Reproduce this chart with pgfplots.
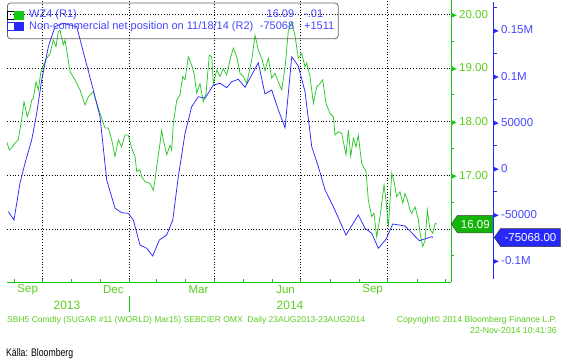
\documentclass[border=0pt]{standalone}
\usepackage{pgfplots}
\pgfplotsset{compat=1.18}
\usepackage{fontspec}
\setmainfont{Liberation Sans}
\usetikzlibrary{shapes.symbols}
\definecolor{bbgreen}{RGB}{40,200,40}
\definecolor{bbgreenax}{RGB}{20,200,20}
\definecolor{bbgreentxt}{RGB}{90,205,30}
\definecolor{bbgreentag}{RGB}{20,180,10}
\definecolor{bbblue}{RGB}{40,40,250}
\definecolor{bbbluetxt}{RGB}{70,70,255}
\newcommand{\trig}{\tikz[baseline=-0.5ex]\fill[bbgreenax] (0,-2.6pt)--(0,2.6pt)--(5.5pt,0)--cycle;\hspace{2.5pt}}
\newcommand{\trib}{\tikz[baseline=-0.5ex]\fill[bbblue] (0,-2.6pt)--(0,2.6pt)--(5.5pt,0)--cycle;\hspace{2.5pt}}
\begin{document}
\begin{tikzpicture}
\useasboundingbox (0,0) rectangle (564pt,363pt);
% green series axis
\begin{axis}[
  at={(7pt,81pt)}, anchor=south west,
  scale only axis, width=444pt, height=282pt,
  xmin=-7.4, xmax=461.9, ymin=15.01, ymax=20.267,
  axis x line=bottom, axis y line=right,
  axis line style={bbgreenax, line width=0.9pt, -},
  xtick={30,122,212,303,395}, xticklabels={},
  minor xtick={0,61,91,151,181,242,273,334,365,426,456},
  ytick={16,17,18,19,20}, minor ytick={15.5,16.5,17.5,18.5,19.5},
  yticklabels={{}, \trig 17.00, \trig 18.00, \trig 19.00, \trig 20.00},
  xmajorgrids, ymajorgrids,
  major grid style={black, line width=0.6pt, dash pattern=on 0.8pt off 2pt},
  tick align=inside, major tick length=3pt, minor tick length=3pt,
  tick style={bbgreenax, line width=0.8pt},
  every major y tick/.append style={draw=none},
  every minor y tick/.append style={xshift=3pt},
  yticklabel style={anchor=west, inner sep=0pt, font=\fontsize{11.5}{13}\selectfont, text=bbgreentxt},
  clip mode=individual,
]
\addplot[bbgreen, line width=0.75pt] coordinates {
(-7.7,17.63) (-5,17.47) (-2,17.52) (1,17.60) (4.5,17.66) (8,18.03) (10.6,18.37) (14,18.09) (17,18.25) (18.7,18.40) (20.4,18.43) (23.3,18.74) (25.7,18.59) (28.2,18.90) (31,19.05) (34.6,19.18) (38.1,19.27) (41.5,19.52) (44.4,19.40) (46.8,19.68) (48.6,19.70) (52.1,19.43) (53.9,19.52) (55.7,19.33) (59.2,18.93) (64.5,18.78) (69.8,18.59) (75.1,18.31) (78.5,18.46) (83.8,18.56) (87.4,18.34) (92.7,18.06) (96.2,17.88) (99.7,17.88) (103.3,17.66) (106.8,17.35) (110.3,17.66) (113.8,17.53) (117.3,17.75) (120.8,17.75) (124.4,17.50) (127.9,17.35) (129.7,17.07) (133.2,17.10) (135,16.97) (138.5,16.88) (143.8,16.85) (147.3,16.72) (149,16.91) (150.8,17.16) (153.6,17.50) (156.1,17.84) (157.8,17.66) (161.4,17.38) (164.9,17.56) (166.7,17.47) (168.4,17.97) (172,18.40) (175.5,18.50) (178.3,18.84) (180.8,18.78) (184.2,19.21) (187.8,19.05) (190.3,18.90) (193.1,18.53) (196.6,18.71) (200.1,18.37) (203,18.53) (206.4,19.24) (209,19.21) (210.7,18.71) (214.3,18.96) (217.8,18.84) (221.2,18.99) (224.8,18.87) (228.3,19.15) (231.8,19.37) (235.4,19.21) (238.9,18.90) (242.4,18.84) (246,18.71) (251.3,19.15) (254.8,19.61) (258.2,19.33) (261.8,19.18) (265.3,18.95) (268.8,19.18) (272.4,18.81) (275.9,18.90) (279.4,18.74) (283,18.59) (286.5,19.02) (290,19.70) (293.6,19.85) (297,19.60) (300.5,19.18) (304.1,19.27) (307.6,19.02) (309.4,19.09) (312.9,18.84) (316.4,18.34) (320,18.65) (323.5,18.71) (326.3,18.78) (329.8,18.34) (334,18.15) (337.5,18.09) (339.3,17.75) (342.8,17.81) (346.4,17.78) (350.9,17.38) (353.4,17.84) (355.9,17.35) (358.7,17.69) (361.5,17.53) (363.9,17.75) (367.5,17.22) (372.1,17.07) (374.5,16.54) (378.1,16.23) (380.5,16.29) (383.4,15.85) (386.9,16.23) (391.1,16.82) (393.2,16.54) (395.7,16.04) (399.3,17.04) (401.7,16.88) (404.5,16.60) (408,16.69) (410.9,16.48) (413.3,16.66) (415.8,16.54) (418.6,16.35) (420.4,16.29) (423.9,16.41) (427.4,16.17) (429.2,15.92) (432,15.67) (434.5,15.79) (436.9,16.35) (439.8,15.98) (442.6,15.92) (445.1,16.10) (447.1,16.09)
};
\node[font=\fontsize{11.5}{13}\selectfont, text=bbgreentxt, yshift=-8pt] at (axis cs:14.5,15.01) {Sep};
\node[font=\fontsize{11.5}{13}\selectfont, text=bbgreentxt, yshift=-8pt] at (axis cs:105,15.01) {Dec};
\node[font=\fontsize{11.5}{13}\selectfont, text=bbgreentxt, yshift=-8pt] at (axis cs:195,15.01) {Mar};
\node[font=\fontsize{11.5}{13}\selectfont, text=bbgreentxt, yshift=-8pt] at (axis cs:287,15.01) {Jun};
\node[font=\fontsize{11.5}{13}\selectfont, text=bbgreentxt, yshift=-8pt] at (axis cs:379,15.01) {Sep};
\node[signal, signal to=west, signal pointer angle=110, fill=bbgreentag, draw=black!70, line width=0.5pt,
  text=white, font=\fontsize{11.5}{13}\selectfont, minimum height=17.5pt, minimum width=42pt, inner sep=1pt, anchor=west]
  at (axis cs:461.9,16.09) {16.09};
\end{axis}
% blue series axis
\begin{axis}[
  at={(7pt,81pt)}, anchor=south west,
  scale only axis, width=444pt, height=282pt,
  xmin=-7.4, xmax=461.9, ymin=-123320, ymax=182540,
  hide axis,
  legend style={at={(axis description cs:0,1)}, anchor=north west, yshift=-2.7pt,
    draw=black!60, line width=0.8pt, rounded corners=3pt, fill=none,
    inner xsep=0pt, inner ysep=6.5pt, column sep=5pt, row sep=0.6pt,
    font=\fontsize{11}{12}\selectfont,
    nodes={inner sep=0pt, text height=8pt, text depth=3pt}},
  legend cell align=left,
]
\addlegendimage{legend image code/.code={\path[sharp corners] (0pt,-4pt) rectangle (16pt,4pt); \fill[bbgreenax, sharp corners] (7pt,-4pt) rectangle (16pt,4pt);}}
\addlegendentry{\textcolor{bbbluetxt}{\makebox[265pt][l]{WZ4 (R1)\hfill 16.09}\hspace{10pt}\makebox[34pt][l]{-.01}}}
\addplot[bbblue, line width=0.75pt, legend image code/.code={\path[sharp corners] (0pt,-4pt) rectangle (16pt,4pt); \fill[bbblue, sharp corners] (7pt,-4pt) rectangle (16pt,4pt);}] coordinates {
(-6,-47070) (0,-56070) (6.3,-16270) (11.6,5420) (18.7,30700) (24,59650) (29.3,95800) (36.3,131900) (43.3,153600) (52.1,157300) (66.3,153600) (83.8,84900) (90.9,56000) (98,-12690) (106.8,-43380) (113.8,-48160) (120.8,-48810) (126.1,-56070) (133.2,-83190) (140.3,-86770) (146.6,-95120) (153.6,-77770) (161.4,-72340) (167.8,-56070) (173.7,-9100) (180.8,37960) (187.8,66810) (194.8,77660) (201.9,75920) (210.7,90340) (217.8,92190) (224.8,87420) (230.1,93920) (237.1,96530) (244.2,87850) (258.2,114530) (265.3,80590) (272.4,84920) (279.4,63230) (286.5,44040) (293.6,121040) (300.5,111000) (307.6,83080) (314.7,23430) (321.7,1730) (328.8,-23540) (337.5,-41640) (350.9,-72340) (363.9,-50650) (371,-65080) (378.1,-70500) (385.1,-86770) (393.2,-77010) (400.3,-60410) (413.3,-62580) (428.4,-78520) (441.5,-74190) (443,-75068)
};
\addlegendentry{\textcolor{bbbluetxt}{\makebox[265pt][l]{Non-commercial net position on 11/18/14 (R2)\hfill -75068}\hspace{10pt}\makebox[34pt][l]{+1511}}}
\end{axis}
% blue y axis
\begin{axis}[
  at={(492pt,84pt)}, anchor=south west,
  scale only axis, width=1pt, height=277pt,
  xmin=0, xmax=1, ymin=-120070, ymax=180370,
  axis y line=right, axis x line=none,
  axis line style={bbblue, line width=0.9pt, -},
  ytick={-100000,-50000,0,50000,100000,150000},
  yticklabels={\trib -0.1M, \trib -50000, \trib 0, \trib 50000, \trib 0.1M, \trib 0.15M},
  minor ytick={-75000,-25000,25000,75000,125000,175000},
  scaled y ticks=false,
  tick align=outside, major tick length=0pt, minor tick length=4pt,
  tick style={bbblue, line width=0.8pt},
  yticklabel style={anchor=west, inner sep=0pt, font=\fontsize{11.5}{13}\selectfont, text=bbbluetxt},
  clip=false,
]
\node[signal, signal to=west, signal pointer angle=110, fill=bbblue, draw=black!80, line width=0.5pt,
  text=white, font=\fontsize{11.5}{13}\selectfont, minimum height=18pt, minimum width=66pt, inner sep=1pt, anchor=west]
  at (axis cs:1,-75068) [xshift=1pt] {-75068.00};
\end{axis}
% year labels and footer
\node[font=\fontsize{12}{13}\selectfont, text=bbgreentxt] at (67pt,58pt) {2013};
\node[font=\fontsize{12}{13}\selectfont, text=bbgreentxt] at (290pt,58pt) {2014};
\draw[bbgreenax, line width=0.8pt] (129.4pt,67pt) -- (129.4pt,51pt);
\node[anchor=west, inner sep=0pt, font=\fontsize{8.5}{9}\selectfont, text=bbgreentxt] at (7pt,43pt) {SBH5 Comdty (SUGAR \#11 (WORLD) Mar15) SEBCIER OMX\ \ Daily 23AUG2013-23AUG2014};
\node[anchor=east, inner sep=0pt, font=\fontsize{8.7}{9}\selectfont, text=bbgreentxt] at (557pt,43pt) {Copyright\textcopyright{} 2014 Bloomberg Finance L.P.};
\node[anchor=east, inner sep=0pt, font=\fontsize{8.7}{9}\selectfont, text=bbgreentxt] at (557pt,32pt) {22-Nov-2014 10:41:36};
\node[anchor=west, inner sep=0pt, font=\fontsize{11}{12}\selectfont, text=black] at (6pt,9pt) {\scalebox{0.79}[1]{Källa: Bloomberg}};
\end{tikzpicture}
\end{document}
